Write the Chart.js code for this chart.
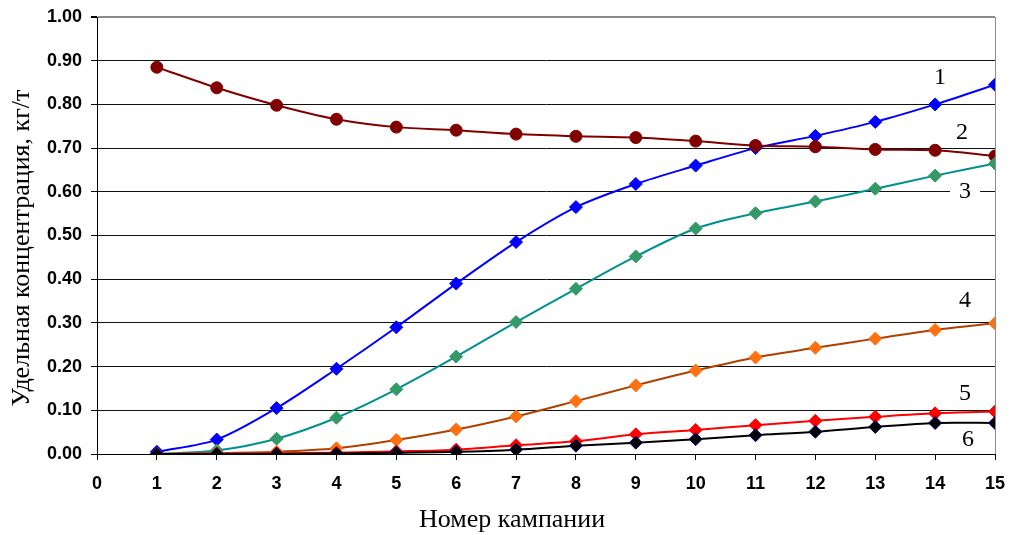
<!DOCTYPE html>
<html>
<head>
<meta charset="utf-8">
<script src="https://cdn.jsdelivr.net/npm/chart.js@4.4.1/dist/chart.umd.min.js"></script>
<style>
  html, body { margin: 0; padding: 0; background: #fff; }
  #wrap { width: 1012px; height: 535px; }
</style>
</head>
<body>
<div id="wrap"><canvas id="myChart" width="1012" height="535"></canvas></div>
<script>
'use strict';
// campaign numbers
const campaigns = [1, 2, 3, 4, 5, 6, 7, 8, 9, 10, 11, 12, 13, 14, 15];
// specific concentration, kg/t
const s1 = [0.005, 0.033, 0.105, 0.195, 0.290, 0.390, 0.485, 0.565, 0.618, 0.660, 0.700, 0.728, 0.760, 0.800, 0.845];
const s2 = [0.885, 0.838, 0.798, 0.766, 0.748, 0.741, 0.732, 0.727, 0.724, 0.716, 0.706, 0.703, 0.697, 0.695, 0.682];
const s3 = [0.000, 0.008, 0.035, 0.083, 0.148, 0.223, 0.302, 0.378, 0.452, 0.516, 0.551, 0.578, 0.607, 0.637, 0.665];
const s4 = [0.000, 0.002, 0.005, 0.013, 0.032, 0.056, 0.086, 0.121, 0.157, 0.191, 0.221, 0.243, 0.264, 0.284, 0.299];
const s5 = [0.000, 0.001, 0.002, 0.003, 0.006, 0.010, 0.020, 0.029, 0.045, 0.055, 0.066, 0.076, 0.085, 0.093, 0.097];
const s6 = [0.000, 0.000, 0.000, 0.001, 0.003, 0.005, 0.010, 0.019, 0.026, 0.034, 0.043, 0.051, 0.062, 0.071, 0.071];
// curve numbers and where they sit
const curveNames = ['1', '2', '3', '4', '5', '6'];
const curveLabelX = [14.08, 14.45, 14.5, 14.5, 14.5, 14.55];
const curveLabelY = [0.86, 0.735, 0.60, 0.35, 0.137, 0.032];
const xTitle = 'Номер кампании';
const yTitle = 'Удельная концентрация, кг/т';

const serif = '"Liberation Serif", "Times New Roman", serif';
const sans = '"Liberation Sans", Arial, sans-serif';

const pts = (arr) => arr.map((v, i) => ({ x: campaigns[i], y: v }));

function line(data, color, fill, border, style, r) {
    return {
        data: pts(data),
        borderColor: color,
        borderWidth: 2,
        backgroundColor: fill,
        pointBackgroundColor: fill,
        pointBorderColor: border,
        pointBorderWidth: 1,
        pointStyle: style,
        pointRadius: r,
        tension: 0.3,
    };
}

// axis titles + curve numbers on white boxes
const annotations = {
    id: 'annotations',
    afterDatasetsDraw(chart) {
        const ctx = chart.ctx;
        const xs = chart.scales.x, ys = chart.scales.y;
        ctx.save();
        ctx.font = '24px ' + serif;
        ctx.textAlign = 'center';
        ctx.textBaseline = 'middle';
        curveNames.forEach((t, i) => {
            const px = xs.getPixelForValue(curveLabelX[i]);
            const py = ys.getPixelForValue(curveLabelY[i]);
            if (i === 2 || i === 5) {
                ctx.fillStyle = '#fff';
                ctx.fillRect(px - 15, py - 12, 30, 24);
            }
            ctx.fillStyle = '#000';
            ctx.fillText(t, px, py);
        });

        ctx.font = '26px ' + serif;
        ctx.fillStyle = '#000';
        ctx.fillText(xTitle, 512, 520);
        ctx.translate(22, 248);
        ctx.rotate(-Math.PI / 2);
        ctx.fillText(yTitle, 0, 0);
        ctx.restore();
    }
};

const config = {
    type: 'line',
    data: {
        datasets: [
            line(s6, '#000000', '#000000', '#000080', 'rectRot', 6.5),
            line(s5, '#ff0000', '#ff0000', '#ff0000', 'rectRot', 6.5),
            line(s4, '#b04000', '#ff7010', '#ff7010', 'rectRot', 6.5),
            line(s3, '#009090', '#339966', '#339966', 'rectRot', 6.5),
            line(s2, '#800000', '#800000', '#800000', 'circle', 6),
            line(s1, '#0000ff', '#0000ff', '#0000ff', 'rectRot', 6.5),
        ],
    },
    options: {
        responsive: false,
        animation: false,
        layout: { padding: { top: 17, right: 17, left: 0, bottom: 0 } },
        plugins: {
            legend: { display: false },
            tooltip: { enabled: false },
        },
        scales: {
            x: {
                type: 'linear',
                min: 0,
                max: 15,
                afterFit: (s) => {
                    s.height = 81;
                    s.paddingLeft = 0;
                    s.paddingRight = 0;
                },
                ticks: {
                    stepSize: 1,
                    color: '#000',
                    padding: 13,
                    font: { family: sans, size: 18, weight: 'bold' },
                },
                grid: {
                    color: (c) => (c.tick && c.tick.value === 15 ? '#8c8c8c' : 'rgba(0,0,0,0)'),
                    tickColor: '#000',
                    tickLength: 6,
                },
                border: { color: '#000', width: 1 },
            },
            y: {
                min: 0,
                max: 1,
                afterFit: (s) => {
                    s.width = 97;
                    s.paddingTop = 0;
                    s.paddingBottom = 0;
                },
                ticks: {
                    stepSize: 0.1,
                    color: '#000',
                    padding: 9,
                    callback: (v) => v.toFixed(2),
                    font: { family: sans, size: 18, weight: 'bold' },
                },
                grid: {
                    color: (c) => (c.tick && c.tick.value >= 0.999 ? '#8c8c8c' : '#111'),
                    lineWidth: (c) => (c.tick && c.tick.value >= 0.999 ? 2 : 1),
                    tickColor: '#000',
                    tickLength: 6,
                },
                border: { color: '#000', width: 1 },
            },
        },
    },
    plugins: [annotations],
};

const myChart = new Chart(document.getElementById('myChart'), config);
</script>
</body>
</html>
